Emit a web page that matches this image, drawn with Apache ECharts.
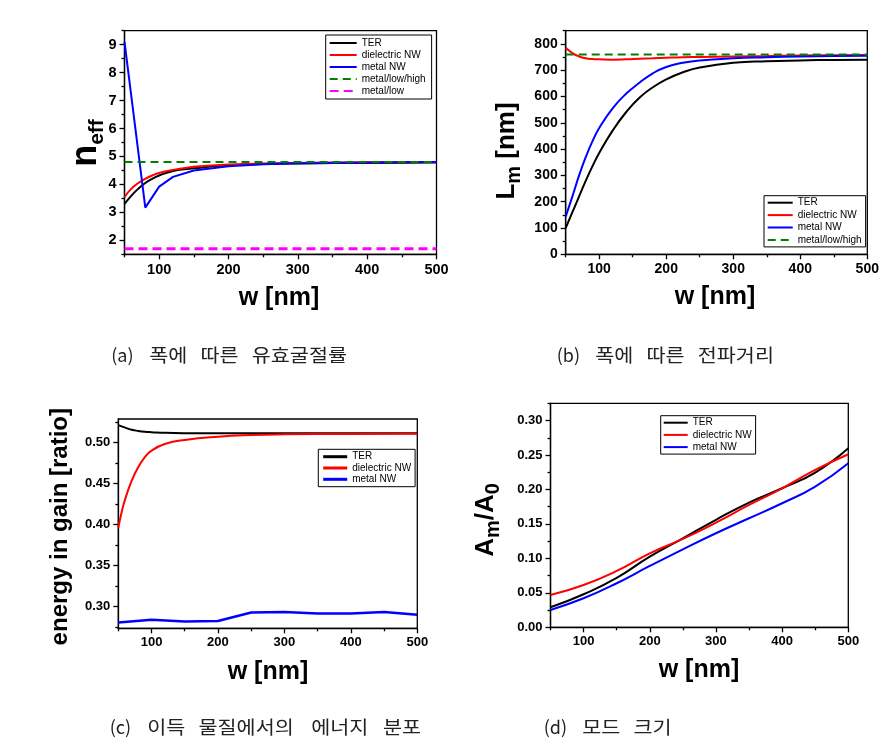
<!DOCTYPE html>
<html><head><meta charset="utf-8">
<script src="https://cdn.jsdelivr.net/npm/echarts@6.0.0/dist/echarts.min.js"></script>
<style>html,body{margin:0;padding:0;background:#fff}#c{width:896px;height:747px}</style>
</head><body><div id="c"></div>
<script>
// ---------- DATA ----------
const xMajor = [100, 200, 300, 400, 500];
const xMinor = [50, 150, 250, 350, 450];
const names = ['TER', 'dielectric NW', 'metal NW', 'metal/low/high', 'metal/low'];

// (a) n_eff
const aW = [50, 60, 70, 80, 90, 100, 120, 140, 160, 200, 250, 300, 400, 500];
const aTER = [3.3, 3.6, 3.85, 4.05, 4.2, 4.32, 4.48, 4.55, 4.6, 4.69, 4.73, 4.75, 4.77, 4.78];
const aDiel = [3.55, 3.85, 4.05, 4.2, 4.32, 4.41, 4.52, 4.6, 4.65, 4.71, 4.75, 4.77, 4.79, 4.8];
const aWMetal = [50, 80, 100, 120, 150, 200, 250, 300, 350, 400, 450, 500];
const aMetal = [9.1, 3.17, 3.92, 4.27, 4.5, 4.65, 4.72, 4.76, 4.77, 4.78, 4.79, 4.8];
const aWConst = [50, 500];
const aMLH = [4.8, 4.8];
const aML = [1.7, 1.7];
const aYMajor = [2, 3, 4, 5, 6, 7, 8, 9];
const aYMinor = [1.5, 2.5, 3.5, 4.5, 5.5, 6.5, 7.5, 8.5, 9.5];

// (b) L_m
const bW = [50, 60, 70, 80, 90, 100, 120, 140, 160, 180, 200, 225, 250, 300, 350, 400, 450, 500];
const bTER = [100, 160, 220, 280, 335, 385, 470, 540, 595, 635, 665, 692, 710, 728, 734, 737, 739, 740];
const bDiel = [785, 765, 752, 745, 742, 741, 740, 741, 743, 745, 747, 749, 750, 752, 754, 756, 757, 758];
const bMetal = [143, 220, 300, 370, 430, 480, 555, 610, 652, 688, 712, 728, 737, 745, 749, 752, 754, 755];
const bWConst = [50, 500];
const bMLH = [760, 760];
const bYMajor = [0, 100, 200, 300, 400, 500, 600, 700, 800];
const bYMinor = [50, 150, 250, 350, 450, 550, 650, 750, 850];

// (c) energy in gain
const cW = [50, 55, 60, 70, 80, 90, 100, 120, 150, 200, 250, 300, 400, 500];
const cTER = [0.521, 0.5195, 0.518, 0.5155, 0.514, 0.513, 0.5125, 0.5117, 0.5112, 0.511, 0.511, 0.511, 0.511, 0.511];
const cDiel = [0.396, 0.415, 0.43, 0.453, 0.47, 0.482, 0.49, 0.498, 0.503, 0.507, 0.509, 0.5098, 0.5103, 0.5105];
const cWMetal = [50, 100, 150, 200, 250, 300, 350, 400, 450, 500];
const cMetal = [0.2805, 0.2838, 0.2817, 0.2825, 0.2927, 0.2935, 0.2915, 0.2915, 0.2935, 0.2899];
const cYMajor = [0.30, 0.35, 0.40, 0.45, 0.50];
const cYMinor = [0.275, 0.325, 0.375, 0.425, 0.475, 0.525];

// (d) A_m/A_0
const dW = [50, 100, 150, 200, 250, 300, 350, 400, 450, 500];
const dTER = [0.029, 0.048, 0.0716, 0.1026, 0.129, 0.156, 0.181, 0.2017, 0.2245, 0.2598];
const dDiel = [0.0469, 0.0614, 0.0818, 0.1074, 0.1282, 0.1519, 0.1775, 0.2017, 0.2283, 0.2511];
const dMetal = [0.0252, 0.0421, 0.0639, 0.089, 0.1132, 0.1365, 0.1582, 0.18, 0.2042, 0.2381];
const dYMajor = [0.00, 0.05, 0.10, 0.15, 0.20, 0.25, 0.30];
const dYMinor = [0.025, 0.075, 0.125, 0.175, 0.225, 0.275, 0.325];

const capA = ['(a)', '폭에', '따른', '유효굴절률'];
const capB = ['(b)', '폭에', '따른', '전파거리'];
const capC = ['(c)', '이득', '물질에서의', '에너지', '분포'];
const capD = ['(d)', '모드', '크기'];

// ---------- LAYOUT ----------
const FF = '"Liberation Sans", Arial, sans-serif';
const KF = '"Noto Sans CJK KR", sans-serif';
const mctx = document.createElement('canvas').getContext('2d');
function tw(t, font) { mctx.font = font; return mctx.measureText(t).width; }

const grids = [
  { left: 124.5, top: 30.7, width: 312, height: 223.6 },
  { left: 565.7, top: 30.7, width: 301.6, height: 223.6 },
  { left: 118.3, top: 419, width: 299, height: 209.3 },
  { left: 550.5, top: 403.3, width: 297.8, height: 224 }
];
const yCfg = [
  { min: 1.5, max: 9.5, major: aYMajor, minor: aYMinor, fmt: v => String(v), fs: 14.5 },
  { min: 0, max: 850, major: bYMajor, minor: bYMinor, fmt: v => String(v), fs: 14 },
  { min: 0.2735, max: 0.5285, major: cYMajor, minor: cYMinor, fmt: v => v.toFixed(2), fs: 13 },
  { min: 0, max: 0.325, major: dYMajor, minor: dYMinor, fmt: v => v.toFixed(2), fs: 13 }
];
const xFs = [14.5, 14, 13, 13];

const xAxis = [], yAxis = [];
grids.forEach((g, i) => {
  const line = { show: true, onZero: false, lineStyle: { color: '#000', width: 1.3 } };
  const noLine = { show: false, onZero: false };
  const lbl = (fs, fmt, vals) => ({ show: true, customValues: vals, formatter: fmt, margin: 8, color: '#000', fontWeight: 'bold', fontSize: fs, fontFamily: FF });
  xAxis.push({ type: 'value', gridIndex: i, min: 50, max: 500, position: 'bottom', axisLine: line,
    axisTick: { show: true, inside: false, length: 5, customValues: xMajor, lineStyle: { color: '#000', width: 1.3 } },
    axisLabel: lbl(xFs[i], v => String(v), xMajor), splitLine: { show: false } });
  xAxis.push({ type: 'value', gridIndex: i, min: 50, max: 500, position: 'bottom', axisLine: noLine,
    axisTick: { show: true, inside: false, length: 3, customValues: xMinor, lineStyle: { color: '#000', width: 1.3 } },
    axisLabel: { show: false }, splitLine: { show: false } });
  const c = yCfg[i];
  yAxis.push({ type: 'value', gridIndex: i, min: c.min, max: c.max, position: 'left', axisLine: line,
    axisTick: { show: true, inside: false, length: 5, customValues: c.major, lineStyle: { color: '#000', width: 1.3 } },
    axisLabel: lbl(c.fs, c.fmt, c.major), splitLine: { show: false } });
  yAxis.push({ type: 'value', gridIndex: i, min: c.min, max: c.max, position: 'left', axisLine: noLine,
    axisTick: { show: true, inside: false, length: 3, customValues: c.minor, lineStyle: { color: '#000', width: 1.3 } },
    axisLabel: { show: false }, splitLine: { show: false } });
});

const COL = { 'TER': '#000000', 'dielectric NW': '#ff0000', 'metal NW': '#0000ff', 'metal/low/high': '#008000', 'metal/low': '#ff00ff' };
function ser(gi, name, xs, ys, o) {
  o = o || {};
  return { type: 'line', name, xAxisIndex: 2 * gi, yAxisIndex: 2 * gi, data: xs.map((x, k) => [x, ys[k]]),
    showSymbol: false, symbol: 'none', smooth: o.smooth === undefined ? true : o.smooth, silent: true,
    lineStyle: { color: COL[name], width: o.w || 2, type: o.dash || 'solid' }, itemStyle: { color: COL[name] }, z: o.z || 2 };
}
const series = [
  ser(0, 'TER', aW, aTER), ser(0, 'dielectric NW', aW, aDiel), ser(0, 'metal NW', aWMetal, aMetal, { smooth: false }),
  ser(0, 'metal/low/high', aWConst, aMLH, { smooth: false, dash: [8, 5] }),
  ser(0, 'metal/low', aWConst, aML, { smooth: false, dash: [9, 5], w: 3 }),
  ser(1, 'TER', bW, bTER), ser(1, 'dielectric NW', bW, bDiel), ser(1, 'metal NW', bW, bMetal),
  ser(1, 'metal/low/high', bWConst, bMLH, { smooth: false, dash: [8, 5] }),
  ser(2, 'TER', cW, cTER), ser(2, 'dielectric NW', cW, cDiel), ser(2, 'metal NW', cWMetal, cMetal, { smooth: false, w: 2.5 }),
  ser(3, 'TER', dW, dTER), ser(3, 'dielectric NW', dW, dDiel), ser(3, 'metal NW', dW, dMetal)
];

function legend(left, top, data, o) {
  return Object.assign({ left, top, orient: 'vertical', padding: [3, 6, 3, 3], itemGap: 2, itemWidth: 27, itemHeight: 10,
    borderColor: '#000', borderWidth: 1, data, selectedMode: false, backgroundColor: '#fff',
    itemStyle: { opacity: 0, borderWidth: 0 },
    textStyle: { fontSize: 10, fontFamily: FF, color: '#000' } }, o || {});
}
const legends = [
  legend(325.7, 35, names),
  legend(764, 195.7, names.slice(0, 4), { padding: [2, 4, 2, 2.7], itemWidth: 25, itemGap: 2.4 }),
  legend(318.3, 449.3, names.slice(0, 3), { padding: [2.4, 4, 2.4, 3.4], itemWidth: 24, itemGap: 1.3, lineStyle: { width: 3 } }),
  legend(660.7, 415.7, names.slice(0, 3), { padding: [2, 4, 2, 2], itemWidth: 24, itemGap: 2.2 })
];

// axis titles
function titleGroup(cx, cy, parts, rot) {
  const fonts = parts.map(p => 'bold ' + p.s + 'px ' + FF);
  const ws = parts.map((p, k) => tw(p.t, fonts[k]));
  const W = ws.reduce((a, b) => a + b, 0);
  const main = parts[0].s;
  let x = -W / 2;
  const children = parts.map((p, k) => {
    const el = { type: 'text', x, y: (main - p.s) * 0.3 + (p.sub ? main * 0.2 : 0),
      style: { text: p.t, font: fonts[k], fill: '#000', textAlign: 'left', textVerticalAlign: 'middle' } };
    x += ws[k];
    return el;
  });
  return { type: 'group', x: cx, y: cy, rotation: rot ? Math.PI / 2 : 0, children, silent: true };
}
const graphics = [
  titleGroup(279, 298, [{ t: 'w [nm]', s: 25 }], false),
  titleGroup(715, 297, [{ t: 'w [nm]', s: 25 }], false),
  titleGroup(268, 672, [{ t: 'w [nm]', s: 25 }], false),
  titleGroup(699, 670, [{ t: 'w [nm]', s: 25 }], false),
  titleGroup(86, 143, [{ t: 'n', s: 36 }, { t: 'eff', s: 21, sub: true }], true),
  titleGroup(507, 151, [{ t: 'L', s: 26 }, { t: 'm', s: 20, sub: true }, { t: ' [nm]', s: 26 }], true),
  titleGroup(60, 526.7, [{ t: 'energy in gain [ratio]', s: 24 }], true),
  titleGroup(486, 520, [{ t: 'A', s: 26 }, { t: 'm', s: 20, sub: true }, { t: '/A', s: 26 }, { t: '0', s: 20, sub: true }], true)
];
// captions: monospace-like pitch (Hangul = P, ASCII/space = P/2); Hangul words widened slightly to keep even spacing
function caption(x0, y, words) {
  const fs = 18;
  const font = fs + 'px ' + KF;
  const P = 20.5;
  let x = x0;
  words.forEach(w => {
    let slot = 0, hangul = false;
    for (const ch of w) { const wide = ch.charCodeAt(0) > 0x2000; slot += wide ? P : P / 2; hangul = hangul || wide; }
    const nat = tw(w, font);
    if (hangul) {
      const target = slot - (P - fs);
      const sx = Math.min(1.15, target / nat);
      graphics.push({ type: 'text', x: x + (P - fs) / 2, y, scaleX: sx, silent: true,
        style: { text: w, font, fill: '#222', textAlign: 'left', textVerticalAlign: 'middle' } });
    } else {
      graphics.push({ type: 'text', x: x + slot / 2, y, silent: true,
        style: { text: w, font, fill: '#222', textAlign: 'center', textVerticalAlign: 'middle' } });
    }
    x += slot + P / 2;
  });
}
caption(107, 355, capA);
caption(553, 355, capB);
caption(105, 727, capC);
caption(540, 727, capD);

const chart = echarts.init(document.getElementById('c'));
chart.setOption({
  backgroundColor: '#fff',
  animation: false,
  grid: grids.map(g => Object.assign({ show: true, borderColor: '#000', borderWidth: 1.3, backgroundColor: 'rgba(0,0,0,0)', containLabel: false, outerBoundsMode: 'none' }, g)),
  xAxis, yAxis, series, legend: legends, graphic: graphics
});
</script></body></html>
